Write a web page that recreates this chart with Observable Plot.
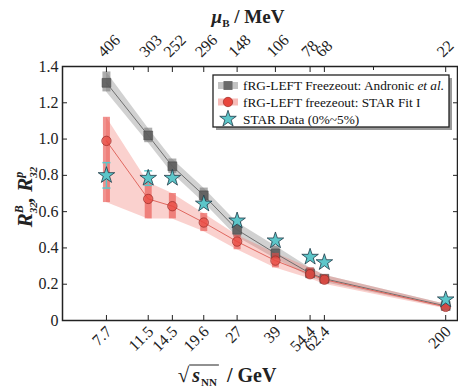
<!DOCTYPE html>
<html><head><meta charset="utf-8">
<script src="https://cdn.jsdelivr.net/npm/d3@7"></script>
<script src="https://cdn.jsdelivr.net/npm/@observablehq/plot@0.6"></script>
<style>
body{margin:0;background:#fff}
#chart{position:relative;width:458px;height:392px}
</style>
</head><body><div id="chart"></div>
<script>
// ---- data ----
const energies     = [7.7, 11.5, 14.5, 19.6, 27, 39, 54.4, 62.4, 200];
const energyLabels = ["7.7","11.5","14.5","19.6","27","39","54.4","62.4","200"];
const muBLabels    = ["406","303","252","296","148","106","78","68","22"];
const minorTopTicks = [10, 100];
const yTicks = [0, 0.2, 0.4, 0.6, 0.8, 1.0, 1.2, 1.4];
// fRG-LEFT Freezeout: Andronic et al.
const andronicMid = [1.31, 1.02, 0.85, 0.69, 0.50, 0.37, 0.26, 0.23, 0.08];
const andronicLo  = [1.26, 0.98, 0.81, 0.65, 0.46, 0.34, 0.24, 0.21, 0.07];
const andronicHi  = [1.37, 1.06, 0.89, 0.73, 0.54, 0.41, 0.29, 0.25, 0.09];
// fRG-LEFT freezeout: STAR Fit I
const starFitMid = [0.99, 0.67, 0.63, 0.54, 0.435, 0.33, 0.255, 0.225, 0.075];
const starFitLo  = [0.65, 0.56, 0.56, 0.49, 0.39, 0.29, 0.23, 0.20, 0.065];
const starFitHi  = [1.12, 0.76, 0.70, 0.59, 0.47, 0.37, 0.29, 0.25, 0.09];
// STAR Data (0%~5%)
const starData = [0.80, 0.785, 0.785, 0.643, 0.55, 0.44, 0.35, 0.32, 0.115];
const starErr  = [0.07, 0.04, 0.01, 0.01, 0.01, 0.01, 0.01, 0.01, 0.005];

const rows = energies.map((s, i) => ({
  s, gMid: andronicMid[i], gLo: andronicLo[i], gHi: andronicHi[i],
  rMid: starFitMid[i], rLo: starFitLo[i], rHi: starFitHi[i],
  d: starData[i], dLo: starData[i] - starErr[i], dHi: starData[i] + starErr[i]
}));

const serif = "'Liberation Serif', 'Times New Roman', serif";
const capSymbol = {draw(ctx) { ctx.moveTo(-4, 0); ctx.lineTo(4, 0); }};
const cyan = "#5cc6c9";

const svg = Plot.plot({
  width: 458, height: 392,
  marginLeft: 62, marginRight: 1, marginTop: 66, marginBottom: 72,
  style: {fontFamily: serif, fontSize: "16px", background: "#fff", color: "#222", overflow: "visible"},
  x: {type: "log", domain: [5.05, 224]},
  y: {domain: [0, 1.4]},
  marks: [
    Plot.areaY(rows, {x: "s", y1: "gLo", y2: "gHi", fill: "#8c8c8c", fillOpacity: 0.4}),
    Plot.areaY(rows, {x: "s", y1: "rLo", y2: "rHi", fill: "#f07a72", fillOpacity: 0.35}),
    Plot.line(rows, {x: "s", y: "gMid", stroke: "#6e6e6e", strokeWidth: 1}),
    Plot.line(rows, {x: "s", y: "rMid", stroke: "#e06860", strokeWidth: 1}),
    Plot.ruleX(rows, {x: "s", y1: "gLo", y2: "gHi", stroke: "#777", strokeWidth: 8, strokeOpacity: 0.6}),
    Plot.dot(rows, {x: "s", y: "gMid", symbol: "square", r: 5, fill: "#5a5a5a", fillOpacity: 0.85, stroke: "#444", strokeWidth: 0.5}),
    Plot.ruleX(rows, {x: "s", y1: "rLo", y2: "rHi", stroke: "#e84a44", strokeWidth: 7, strokeOpacity: 0.6}),
    Plot.dot(rows, {x: "s", y: "rMid", r: 4.7, fill: "#e8453c", fillOpacity: 0.65, stroke: "#9a2a25", strokeWidth: 0.7}),
    Plot.ruleX(rows, {x: "s", y1: "dLo", y2: "dHi", stroke: cyan, strokeWidth: 1.5}),
    Plot.dot(rows, {x: "s", y: "dLo", symbol: capSymbol, stroke: cyan, strokeWidth: 1.5}),
    Plot.dot(rows, {x: "s", y: "dHi", symbol: capSymbol, stroke: cyan, strokeWidth: 1.5}),
    Plot.dot(rows, {x: "s", y: "d", symbol: "star", r: 5.2, fill: cyan, stroke: "#1f3a48", strokeWidth: 0.8}),
    Plot.frame({stroke: "#222", strokeWidth: 1.5}),
    Plot.axisY({ticks: yTicks, tickSize: -5, tickPadding: 9, tickFormat: d => d === 0 ? "0" : d.toFixed(1), label: null, fontSize: 16, stroke: "#222"}),
    Plot.axisY({anchor: "right", ticks: yTicks, tickSize: -5, tickFormat: () => "", label: null, stroke: "#222"}),
    Plot.axisX({anchor: "bottom", ticks: energies, tickSize: -5, tickFormat: () => "", label: null, stroke: "#222"}),
    Plot.axisX({anchor: "top", ticks: energies, tickSize: -5, tickFormat: () => "", label: null, stroke: "#222"}),
    Plot.axisX({anchor: "top", ticks: minorTopTicks, tickSize: -3, tickFormat: () => "", label: null, stroke: "#222"}),
    Plot.text(energies, {x: d => d, text: (d, i) => energyLabels[i], frameAnchor: "bottom", dx: 2.5, dy: 8.5, rotate: -45, textAnchor: "end", lineAnchor: "middle", fontSize: 16}),
    Plot.text(energies, {x: d => d, text: (d, i) => muBLabels[i], frameAnchor: "top", dx: -6, dy: -12, rotate: -45, textAnchor: "start", lineAnchor: "middle", fontSize: 16})
  ]
});
document.getElementById("chart").appendChild(svg);

const S = d3.select(svg);
// ---- top title: mu_B / MeV ----
const t = S.append("text").attr("x", 248).attr("y", 23).attr("text-anchor", "middle")
  .attr("font-family", serif).attr("font-weight", "bold").attr("font-size", 19).attr("fill", "#222");
t.append("tspan").attr("font-style", "italic").text("μ");
t.append("tspan").attr("font-size", 11).attr("dy", 4).text("B");
t.append("tspan").attr("dy", -4).text(" / MeV");

// ---- x label: sqrt(s_NN) / GeV ----
{
  const g = S.append("g").attr("font-family", serif).attr("fill", "#222").attr("text-anchor", "start");
  const base = 382;
  let cx = 0;
  const add = (txt, opt) => {
    const el = g.append("text").attr("x", cx).attr("y", base + (opt.dy || 0)).attr("font-size", opt.size)
      .attr("text-anchor", "start")
      .attr("font-weight", opt.bold ? "bold" : "normal").attr("font-style", opt.italic ? "italic" : "normal").text(txt);
    const w = el.node().getComputedTextLength();
    const x0 = cx;
    cx += w + (opt.gap || 0);
    return {x0, w};
  };
  add("√", {size: 21, gap: 3});
  const sPart = add("s", {size: 20, bold: true, italic: true, gap: 1});
  const nn = add("NN", {size: 11, bold: true, dy: 4, gap: 10});
  add("/ GeV", {size: 20, bold: true});
  const total = cx;
  const x0 = 227 - total / 2;
  g.attr("transform", `translate(${x0},0)`);
  g.append("line").attr("x1", sPart.x0 - 3).attr("x2", nn.x0 + nn.w + 2).attr("y1", base - 17).attr("y2", base - 17)
    .attr("stroke", "#222").attr("stroke-width", 1);
}

// ---- y label: R^B_32, R^p_32 ----
{
  const g = S.append("g").attr("font-family", serif).attr("fill", "#222").attr("font-weight", "bold").attr("text-anchor", "start");
  let cx = 0;
  const big = (txt) => {
    const el = g.append("text").attr("x", cx).attr("y", 0).attr("font-size", 21).attr("font-style", "italic").attr("text-anchor", "start").text(txt);
    cx += el.node().getComputedTextLength();
  };
  const stack = (sup) => {
    const a = g.append("text").attr("x", cx).attr("y", -9).attr("font-size", 12).attr("font-style", "italic").attr("text-anchor", "start").text(sup);
    const b = g.append("text").attr("x", cx).attr("y", 5).attr("font-size", 11).attr("font-style", "italic").attr("text-anchor", "start").text("32");
    cx += Math.max(a.node().getComputedTextLength(), b.node().getComputedTextLength());
  };
  big("R"); stack("B"); big(", "); big("R"); stack("p");
  g.attr("transform", `translate(32,${197 + cx / 2}) rotate(-90)`);
}

// ---- legend ----
{
  const L = S.append("g").attr("font-family", serif).attr("font-size", 13.3).attr("fill", "#111").attr("text-anchor", "start");
  const bx = 213, by = 75, bw = 236, bh = 52;
  L.append("rect").attr("x", bx + 3).attr("y", by + 3).attr("width", bw).attr("height", bh).attr("fill", "#9a9a9a");
  L.append("rect").attr("x", bx).attr("y", by).attr("width", bw).attr("height", bh).attr("fill", "#fff").attr("stroke", "#222").attr("stroke-width", 1.3);
  const rowsY = [85.5, 102, 119];
  const sx = 228;
  L.append("line").attr("x1", 218).attr("x2", 238).attr("y1", rowsY[0]).attr("y2", rowsY[0]).attr("stroke", "#888").attr("stroke-width", 7).attr("stroke-opacity", 0.5);
  L.append("rect").attr("x", sx - 4.5).attr("y", rowsY[0] - 4.5).attr("width", 9).attr("height", 9).attr("fill", "#5a5a5a").attr("fill-opacity", 0.85);
  L.append("line").attr("x1", 218).attr("x2", 238).attr("y1", rowsY[1]).attr("y2", rowsY[1]).attr("stroke", "#f07a72").attr("stroke-width", 7).attr("stroke-opacity", 0.5);
  L.append("circle").attr("cx", sx).attr("cy", rowsY[1]).attr("r", 4.7).attr("fill", "#e8453c").attr("stroke", "#9a2a25").attr("stroke-width", 0.7);
  L.append("path").attr("d", d3.symbol(d3.symbolStar, Math.PI * 5.2 * 5.2)()).attr("transform", `translate(${sx},${rowsY[2]})`)
    .attr("fill", cyan).attr("stroke", "#1f3a48").attr("stroke-width", 0.8);
  const tx = 243;
  const t1 = L.append("text").attr("x", tx).attr("y", rowsY[0]).attr("dy", "0.35em");
  t1.append("tspan").text("fRG-LEFT Freezeout: Andronic ");
  t1.append("tspan").attr("font-style", "italic").text("et al.");
  L.append("text").attr("x", tx).attr("y", rowsY[1]).attr("dy", "0.35em").text("fRG-LEFT freezeout: STAR Fit I");
  L.append("text").attr("x", tx).attr("y", rowsY[2]).attr("dy", "0.35em").text("STAR Data (0%~5%)");
}
</script>
</body></html>
